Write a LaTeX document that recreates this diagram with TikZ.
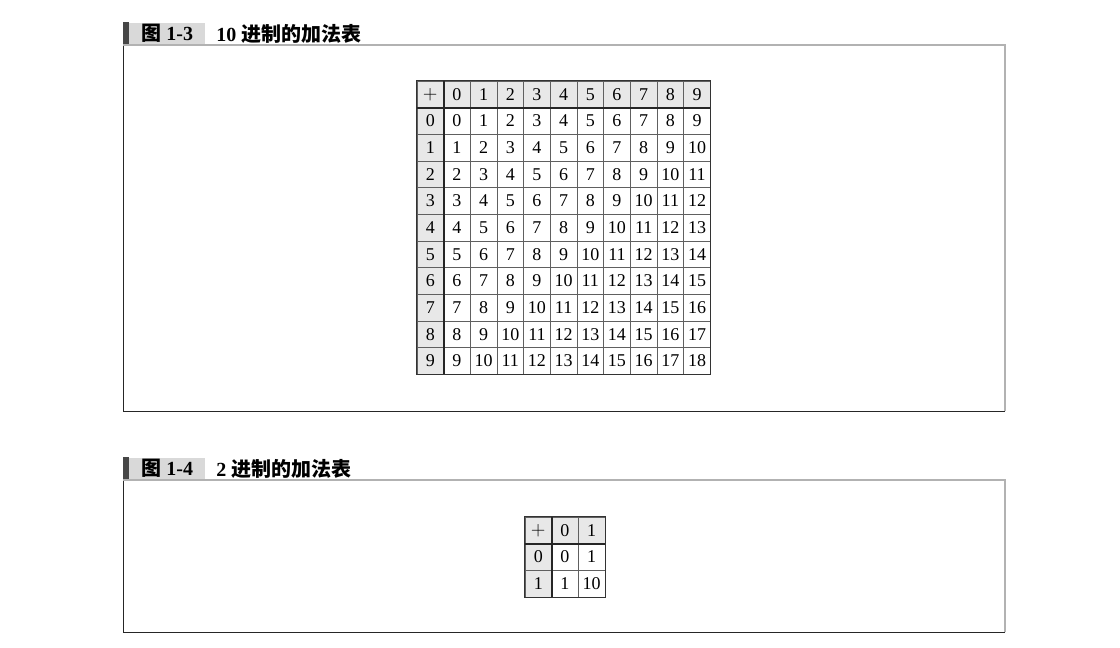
\documentclass[tikz,border=0pt]{standalone}
\usepackage{fontspec}
\setmainfont{Liberation Serif}
\newfontfamily\cjk{Noto Sans CJK SC Bold}
\usetikzlibrary{positioning}

\tikzset{
  cell/.style={
    rectangle,
    draw=gray!75!black,
    line width=0.5pt,
    minimum width=20pt,
    minimum height=20pt,
    inner sep=0pt,
    font=\fontsize{13.5}{13.5}\selectfont},
  hd/.style={cell, fill=gray!18},
  sep/.style={line width=1pt, black!85},
  tagbox/.style={
    rectangle,
    fill=gray!30,
    minimum width=57pt,
    minimum height=16.5pt,
    inner sep=0pt,
    font=\fontsize{15}{15}\selectfont\bfseries},
  title/.style={inner sep=0pt, font=\fontsize{15}{15}\selectfont\bfseries},
  frametop/.style={line width=1.4pt, gray!60},
  frameside/.style={line width=0.7pt, gray!30!black}
}

\begin{document}
\begin{tikzpicture}[x=0.75pt,y=-0.75pt]
  \useasboundingbox (0,0) rectangle (1120,648);

  % figure 1-3
  \node[tagbox, anchor=south west] (tag1) at (129,45) {{\cjk 图} 1-3};
  \fill[gray!55!black] (123,45) rectangle (tag1.north west);
  \node[title, anchor=west, right=8pt of tag1] (ti1) {10 {\cjk 进制的加法表}};
  \draw[frameside] (1005,411) -- (123,411) -- (123,45);
  \draw[frametop] (123,45) -- (1005,45) -- (1005,411);

  % 10 x 10 table
  \foreach \r in {0,...,10} {
    \foreach \c in {0,...,10} {
      \pgfmathtruncatemacro{\v}{\r+\c-2}
      \ifnum\r=0
        \ifnum\c=0
          \node[hd] (a-\r-\c) at ({430.3+26.67*\c},{94.3+26.67*\r}) {$+$};
        \else
          \pgfmathtruncatemacro{\v}{\c-1}
          \node[hd] (a-\r-\c) at ({430.3+26.67*\c},{94.3+26.67*\r}) {\v};
        \fi
      \else
        \ifnum\c=0
          \pgfmathtruncatemacro{\v}{\r-1}
          \node[hd] (a-\r-\c) at ({430.3+26.67*\c},{94.3+26.67*\r}) {\v};
        \else
          \node[cell] (a-\r-\c) at ({430.3+26.67*\c},{94.3+26.67*\r}) {\v};
        \fi
      \fi
    }
  }
  \draw[sep] (a-0-0.north east) -- (a-10-0.south east);
  \draw[sep] (a-0-0.south west) -- (a-0-10.south east);
  \draw[line width=0.8pt, black!80] (a-0-0.north west) rectangle (a-10-10.south east);

  % figure 1-4
  \node[tagbox, anchor=south west] (tag2) at (129,480) {{\cjk 图} 1-4};
  \fill[gray!55!black] (123,480) rectangle (tag2.north west);
  \node[title, anchor=west, right=8pt of tag2] (ti2) {2 {\cjk 进制的加法表}};
  \draw[frameside] (1005,632) -- (123,632) -- (123,480);
  \draw[frametop] (123,480) -- (1005,480) -- (1005,632);

  % 2 x 2 table
  \foreach \r/\c/\v in {0/0/$+$, 0/1/0, 0/2/1, 1/0/0, 2/0/1}
    \node[hd] (b-\r-\c) at ({538.3+26.67*\c},{530.3+26.67*\r}) {\v};
  \foreach \r/\c/\v in {1/1/0, 1/2/1, 2/1/1, 2/2/10}
    \node[cell] (b-\r-\c) at ({538.3+26.67*\c},{530.3+26.67*\r}) {\v};
  \draw[sep] (b-0-0.north east) -- (b-2-0.south east);
  \draw[sep] (b-0-0.south west) -- (b-0-2.south east);
  \draw[line width=0.8pt, black!80] (b-0-0.north west) rectangle (b-2-2.south east);
\end{tikzpicture}
\end{document}
